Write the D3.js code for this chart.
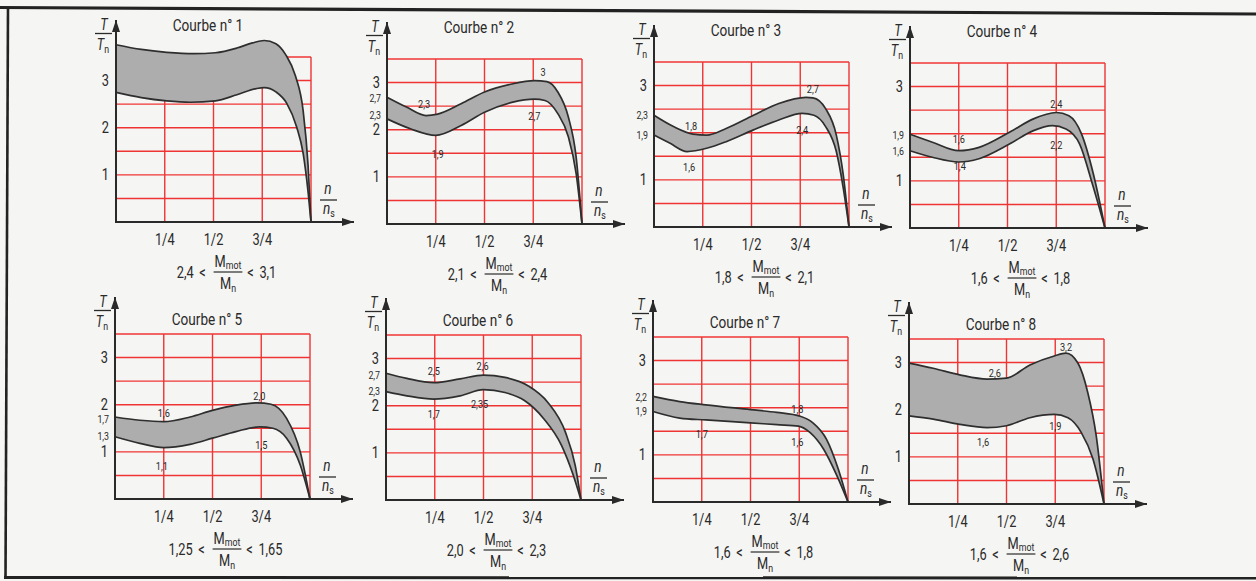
<!DOCTYPE html>
<html lang="fr">
<head>
<meta charset="UTF-8">
<title>Courbes T/Tn</title>
<style>
  body { margin: 0; background: #f5f5f3; }
  svg { display: block; }
  text { font-family: Roboto, 'Open Sans', sans-serif; fill: #2a2a2a; }
  .grid { stroke: #ef3434; stroke-width: 1.4; fill: none; }
  .band { fill: #adadad; }
  .edge { fill: none; stroke: #2e2e2e; stroke-width: 1.7; }
  .axis { stroke: #2a2a2a; stroke-width: 2; fill: none; }
</style>
</head>
<body>
<svg width="1256" height="581"></svg>
<script src="https://d3js.org/d3.v7.min.js"></script>
<script>
// ---- data (n/ns, T/Tn) ----
const titres = ["Courbe n° 1", "Courbe n° 2", "Courbe n° 3", "Courbe n° 4",
                "Courbe n° 5", "Courbe n° 6", "Courbe n° 7", "Courbe n° 8"];
const bornes = [["2,4", "3,1"], ["2,1", "2,4"], ["1,8", "2,1"], ["1,6", "1,8"],
                ["1,25", "1,65"], ["2,0", "2,3"], ["1,6", "1,8"], ["1,6", "2,6"]];
const xTicks = [0.25, 0.5, 0.75];
const xTickLabels = ["1/4", "1/2", "3/4"];
const yGrid = [0.5, 1, 1.5, 2, 2.5, 3, 3.5];

const haut1 = [[0,3.76],[0.13,3.66],[0.26,3.6],[0.4,3.57],[0.51,3.59],[0.62,3.69],[0.7,3.8],[0.76,3.85],[0.82,3.78],[0.87,3.55],[0.92,3.1],[0.96,2.35],[0.985,1.2],[1,0]];
const bas1  = [[0,2.75],[0.13,2.64],[0.26,2.57],[0.38,2.54],[0.51,2.57],[0.62,2.7],[0.72,2.83],[0.76,2.85],[0.82,2.76],[0.875,2.52],[0.926,2.02],[0.96,1.45],[0.986,0.6],[1,0]];
const haut2 = [[0,2.69],[0.1,2.48],[0.2,2.3],[0.26,2.33],[0.38,2.55],[0.5,2.8],[0.64,2.97],[0.756,3.04],[0.82,3.02],[0.876,2.8],[0.93,2.27],[0.97,1.42],[1,0]];
const bas2  = [[0,2.23],[0.12,2.02],[0.25,1.88],[0.38,2.09],[0.5,2.37],[0.64,2.58],[0.756,2.65],[0.81,2.62],[0.876,2.34],[0.93,1.85],[0.97,1.07],[1,0]];
const haut3 = [[0,2.37],[0.1,2.13],[0.2,1.97],[0.27,1.95],[0.37,2.09],[0.51,2.37],[0.64,2.62],[0.78,2.75],[0.815,2.74],[0.88,2.51],[0.935,1.95],[0.97,1.12],[1,0]];
const bas3  = [[0,1.95],[0.08,1.78],[0.17,1.6],[0.27,1.67],[0.37,1.81],[0.51,2.06],[0.64,2.27],[0.76,2.41],[0.82,2.37],[0.88,2.13],[0.935,1.6],[0.97,0.84],[1,0]];
const haut4 = [[0,1.99],[0.115,1.82],[0.25,1.64],[0.354,1.71],[0.51,2.03],[0.63,2.31],[0.75,2.45],[0.815,2.38],[0.88,1.99],[0.94,1.15],[1,0]];
const bas4  = [[0,1.64],[0.115,1.5],[0.25,1.4],[0.354,1.47],[0.51,1.78],[0.63,2.06],[0.73,2.17],[0.8,2.1],[0.87,1.78],[0.935,0.94],[1,0]];
const haut5 = [[0,1.74],[0.128,1.67],[0.25,1.64],[0.385,1.74],[0.5,1.88],[0.62,1.99],[0.73,2.04],[0.8,2.01],[0.88,1.71],[0.95,1.0],[1,0]];
const bas5  = [[0,1.32],[0.128,1.18],[0.25,1.09],[0.385,1.16],[0.5,1.29],[0.62,1.43],[0.74,1.53],[0.81,1.5],[0.88,1.29],[0.95,0.72],[1,0]];
const haut6 = [[0,2.69],[0.107,2.58],[0.245,2.49],[0.38,2.57],[0.5,2.65],[0.61,2.6],[0.73,2.42],[0.83,2.07],[0.92,1.44],[0.97,0.74],[1,0]];
const bas6  = [[0,2.3],[0.107,2.21],[0.245,2.14],[0.38,2.21],[0.5,2.34],[0.61,2.28],[0.71,2.11],[0.81,1.72],[0.9,1.16],[0.96,0.53],[1,0]];
const haut7 = [[0,2.24],[0.137,2.13],[0.27,2.06],[0.5,1.96],[0.635,1.9],[0.755,1.82],[0.82,1.68],[0.89,1.33],[0.95,0.7],[1,0]];
const bas7  = [[0,1.92],[0.137,1.78],[0.27,1.74],[0.5,1.68],[0.635,1.64],[0.746,1.61],[0.806,1.47],[0.875,1.12],[0.943,0.56],[1,0]];
const haut8 = [[0,2.99],[0.124,2.88],[0.26,2.74],[0.4,2.65],[0.5,2.67],[0.62,2.95],[0.745,3.14],[0.805,3.2],[0.866,2.99],[0.917,2.36],[0.96,1.45],[1,0]];
const bas8  = [[0,1.87],[0.124,1.8],[0.26,1.69],[0.4,1.62],[0.5,1.66],[0.62,1.83],[0.745,1.9],[0.815,1.83],[0.883,1.52],[0.943,0.96],[1,0]];

// y-axis labels: big ones and small decimal ones
const gradsY = [[1,2,3],[1,2,3],[1,3],[1,3],[1,2,3],[1,2,3],[1,3],[1,2,3]];
const petitsY = [[], ["2,3","2,7"], ["1,9","2,3"], ["1,6","1,9"], ["1,3","1,7"], ["2,3","2,7"], ["1,9","2,2"], []];
const petitsYval = [[], [2.3,2.66], [1.95,2.37], [1.62,1.97], [1.33,1.69], [2.3,2.64], [1.92,2.22], []];

// annotations [n, T, text]
const notes1 = [];
const notes2 = [[0.19,2.55,"2,3"],[0.26,1.48,"1,9"],[0.8,3.22,"3"],[0.756,2.3,"2,7"]];
const notes3 = [[0.19,2.14,"1,8"],[0.18,1.27,"1,6"],[0.815,2.92,"2,7"],[0.76,2.05,"2,4"]];
const notes4 = [[0.25,1.88,"1,6"],[0.255,1.31,"1,4"],[0.75,2.63,"2,4"],[0.75,1.76,"2,2"]];
const notes5 = [[0.25,1.83,"1,6"],[0.24,0.7,"1,1"],[0.74,2.19,"2,0"],[0.75,1.14,"1,5"]];
const notes6 = [[0.245,2.74,"2,5"],[0.245,1.83,"1,7"],[0.495,2.85,"2,6"],[0.48,2.04,"2,35"]];
const notes7 = [[0.25,1.45,"1,7"],[0.74,1.97,"1,8"],[0.74,1.27,"1,6"]];
const notes8 = [[0.44,2.78,"2,6"],[0.38,1.32,"1,6"],[0.805,3.32,"3,2"],[0.75,1.65,"1,9"]];

const hauts = [haut1, haut2, haut3, haut4, haut5, haut6, haut7, haut8];
const bas = [bas1, bas2, bas3, bas4, bas5, bas6, bas7, bas8];
const notes = [notes1, notes2, notes3, notes4, notes5, notes6, notes7, notes8];

// ---- layout (scan is slightly tilted, so origins drift a little) ----
const origX = [116, 387, 654, 910, 115, 386, 653, 909];
const origY = [222, 224, 227, 228, 499, 500, 502, 504];
const plotW = 195, plotH = 165;
const SX = 0.8; // condensed look

const svg = d3.select("svg");

// page border
svg.append("line").attr("x1", 0).attr("y1", 7.5).attr("x2", 1256).attr("y2", 14)
  .attr("stroke", "#222").attr("stroke-width", 3.2);
svg.append("line").attr("x1", 8).attr("y1", 7).attr("x2", 5.5).attr("y2", 579)
  .attr("stroke", "#222").attr("stroke-width", 2.6);
svg.append("line").attr("x1", 4).attr("y1", 577.5).attr("x2", 1256).attr("y2", 578)
  .attr("stroke", "#222").attr("stroke-width", 3);

svg.append("defs").append("marker")
  .attr("id", "fl").attr("viewBox", "0 -5 12 10")
  .attr("refX", 12).attr("refY", 0)
  .attr("markerWidth", 12).attr("markerHeight", 10)
  .attr("markerUnits", "userSpaceOnUse")
  .attr("orient", "auto")
  .append("path").attr("d", "M0,-4L12,0L0,4Z").attr("fill", "#2a2a2a");

function txt(g, x, y, s, size, anchor) {
  return g.append("text")
    .attr("transform", "translate(" + x + "," + y + ") scale(" + SX + ",1)")
    .attr("font-size", size)
    .attr("text-anchor", anchor || "middle")
    .text(s);
}

titres.forEach(function(titre, i) {
  const g = svg.append("g").attr("transform", "translate(" + origX[i] + "," + origY[i] + ")");
  const x = d3.scaleLinear().domain([0, 1]).range([0, plotW]);
  const y = d3.scaleLinear().domain([0, 3.5]).range([0, -plotH]);
  const bas_row = i >= 4;

  // red grid
  g.selectAll(".gh").data(yGrid).enter().append("line").attr("class", "grid")
    .attr("x1", 0).attr("x2", x(1)).attr("y1", d => y(d)).attr("y2", d => y(d));
  g.selectAll(".gv").data(xTicks.concat([1])).enter().append("line").attr("class", "grid")
    .attr("x1", d => x(d)).attr("x2", d => x(d)).attr("y1", 0).attr("y2", y(3.5));

  // band between the two limit curves
  const line = d3.line().x(d => x(d[0])).y(d => y(d[1])).curve(d3.curveMonotoneX);
  const up = line(hauts[i]);
  const lowRev = line(bas[i].slice().reverse());
  g.append("path").attr("class", "band").attr("d", up + "L" + lowRev.slice(1) + "Z");
  g.append("path").attr("class", "edge").attr("d", up);
  g.append("path").attr("class", "edge").attr("d", line(bas[i]));

  // axes with arrows
  g.append("line").attr("class", "axis").attr("x1", 0).attr("y1", 0).attr("x2", 0).attr("y2", -202)
    .attr("marker-end", "url(#fl)");
  g.append("line").attr("class", "axis").attr("x1", -1).attr("y1", 0).attr("x2", 238).attr("y2", 0)
    .attr("marker-end", "url(#fl)");

  // x tick labels
  xTicks.forEach((t, k) => txt(g, x(t), 23, xTickLabels[k], 16));

  // y tick labels
  gradsY[i].forEach(v => txt(g, -7, y(v) + 5.5, String(v), 16, "end"));
  petitsY[i].forEach((s, k) => txt(g, -6, y(petitsYval[i][k]) + 3.5, s, 11, "end"));

  // annotations
  notes[i].forEach(d => txt(g, x(d[0]), y(d[1]) + 4, d[2], 11.5));

  // title
  txt(g, 92, bas_row ? -174 : -191, titre, 17);

  // T / Tn
  txt(g, -12, -192, "T", 16).attr("font-style", "italic");
  g.append("line").attr("x1", -21).attr("x2", -4).attr("y1", -188.5).attr("y2", -188.5)
    .attr("stroke", "#2a2a2a").attr("stroke-width", 1.3);
  const tn = txt(g, -13, -172, "", 16);
  tn.append("tspan").attr("font-style", "italic").text("T");
  tn.append("tspan").attr("font-size", 11).attr("dy", 3).text("n");

  // n / ns
  txt(g, 212, -28, "n", 17).attr("font-style", "italic");
  g.append("line").attr("x1", 204).attr("x2", 221).attr("y1", -22).attr("y2", -22)
    .attr("stroke", "#2a2a2a").attr("stroke-width", 1.3);
  const ns = txt(g, 213, -8, "", 17);
  ns.append("tspan").attr("font-style", "italic").text("n");
  ns.append("tspan").attr("font-size", 11).attr("dy", 3).text("s");

  // M_mot / M_n range
  const cx = 112, fy = 50;
  const num = txt(g, cx, fy - 5, "", 16);
  num.append("tspan").text("M");
  num.append("tspan").attr("font-size", 11).attr("dy", 2).text("mot");
  const den = txt(g, cx, fy + 17, "", 16);
  den.append("tspan").text("M");
  den.append("tspan").attr("font-size", 11).attr("dy", 3).text("n");
  const hw = num.node().getComputedTextLength() * SX / 2 + 1;
  g.append("line").attr("x1", cx - hw).attr("x2", cx + hw).attr("y1", fy).attr("y2", fy)
    .attr("stroke", "#2a2a2a").attr("stroke-width", 1.2);
  txt(g, cx - hw - 11, fy + 6, "<", 16);
  txt(g, cx - hw - 20, fy + 6, bornes[i][0], 16, "end");
  txt(g, cx + hw + 8, fy + 6, "<", 16);
  txt(g, cx + hw + 17, fy + 6, bornes[i][1], 16, "start");
});
</script>
</body>
</html>
